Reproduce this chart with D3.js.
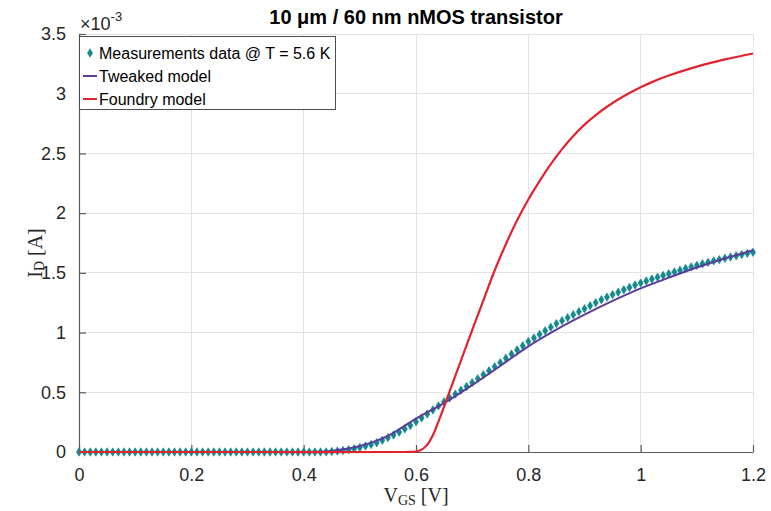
<!DOCTYPE html>
<html>
<head>
<meta charset="utf-8">
<script src="https://cdn.jsdelivr.net/npm/d3@7"></script>
<style>
  html, body { margin: 0; padding: 0; background: #fff; }
  svg { display: block; }
</style>
</head>
<body>
<svg id="chart" width="771" height="511"></svg>
<script>
// ---------------- DATA ----------------
const xTicks = [0, 0.2, 0.4, 0.6, 0.8, 1, 1.2];
const xTickLabels = ["0", "0.2", "0.4", "0.6", "0.8", "1", "1.2"];
const yTicks = [0, 0.5, 1, 1.5, 2, 2.5, 3, 3.5];
const yTickLabels = ["0", "0.5", "1", "1.5", "2", "2.5", "3", "3.5"];

// Measurements (VGS sampled every 0.01 V from 0 to 1.2 V), ID in units of 1e-3 A
const measStep = 0.01;
const measID = [
  0,0,0,0,0,0,0,0,0,0,
  0,0,0,0,0,0,0,0,0,0,
  0,0,0,0,0,0,0,0,0,0,
  0,0,0,0,0,0,0,0,0,0,
  0,0,0,0,0.001,
  0.004,0.008,0.013,0.02,0.028,0.038,0.05,0.063,0.078,0.098,
  0.12,0.142,0.166,0.193,0.222,0.253,0.285,0.318,0.352,0.386,
  0.42,0.453,0.485,0.517,0.549,0.581,0.614,0.647,0.68,0.714,
  0.748,0.785,0.82,0.855,0.89,0.925,
  0.955,0.985,1.015,1.045,1.075,1.1,1.125,1.15,1.175,1.2,
  1.225,1.25,1.275,1.297,1.318,1.338,1.358,1.378,1.398,1.415,
  1.432,1.448,1.463,1.478,1.493,1.508,1.522,1.536,1.55,1.563,
  1.576,1.588,1.6,1.611,1.622,1.633,1.643,1.653,1.663,1.672
];

// Tweaked model
const tweakVGS = [0, 0.2, 0.4, 0.42, 0.45, 0.5, 0.55, 0.6, 0.65, 0.7, 0.75, 0.8, 0.85, 0.9, 0.95, 1.0, 1.05, 1.1, 1.15, 1.2];
const tweakID  = [0, 0,   0,   0.002, 0.009, 0.05, 0.135, 0.28, 0.41, 0.56, 0.72, 0.885, 1.025, 1.15, 1.265, 1.37, 1.46, 1.545, 1.62, 1.69];

// Foundry model
const foundryVGS = [0, 0.3, 0.58, 0.6, 0.61, 0.62, 0.63, 0.64, 0.65, 0.66, 0.68, 0.7, 0.72, 0.74, 0.76, 0.78, 0.8, 0.82, 0.84, 0.86, 0.88, 0.9, 0.92, 0.94, 0.96, 0.98, 1.0, 1.02, 1.05, 1.1, 1.15, 1.2];
const foundryID  = [0, 0,   0,    0.004, 0.02, 0.06, 0.14, 0.255, 0.38, 0.51, 0.765, 1.02, 1.27, 1.52, 1.74, 1.94, 2.114, 2.268, 2.41, 2.536, 2.646, 2.741, 2.821, 2.891, 2.952, 3.006, 3.054, 3.097, 3.152, 3.227, 3.287, 3.337];

const legendLabels = ["Measurements data @ T = 5.6 K", "Tweaked model", "Foundry model"];
const titleText = "10 \u03bcm / 60 nm nMOS transistor";

// ---------------- LAYOUT ----------------
const svg = d3.select("#chart");
const pL = 79, pR = 753, pT = 34, pB = 452;
const x = d3.scaleLinear().domain([0, 1.2]).range([pL, pR]);
const y = d3.scaleLinear().domain([0, 3.5]).range([pB, pT]);

const sans = "'Liberation Sans', Arial, Helvetica, sans-serif";
const serif = "'Liberation Serif', 'DejaVu Serif', 'Times New Roman', serif";
const colMeas = "#14888c", colTweak = "#5b3c9b", colFoundry = "#e2232e";
const axisCol = "#5a5a5a", gridCol = "#e3e3e3";

// grid
const grid = svg.append("g");
grid.selectAll("line.gx").data(xTicks).join("line").attr("class", "gx")
  .attr("x1", d => x(d)).attr("x2", d => x(d))
  .attr("y1", pT).attr("y2", pB)
  .attr("stroke", gridCol).attr("stroke-width", 1).attr("shape-rendering", "crispEdges");
grid.selectAll("line.gy").data(yTicks).join("line").attr("class", "gy")
  .attr("x1", pL).attr("x2", pR)
  .attr("y1", d => y(d)).attr("y2", d => y(d))
  .attr("stroke", gridCol).attr("stroke-width", 1).attr("shape-rendering", "crispEdges");

// axes
const xAxis = d3.axisBottom(x).tickValues(xTicks).tickFormat((d, i) => xTickLabels[i])
  .tickSizeInner(-7).tickSizeOuter(0).tickPadding(16);
const gx = svg.append("g").attr("transform", `translate(0,${pB})`).call(xAxis);
const yAxis = d3.axisLeft(y).tickValues(yTicks).tickFormat((d, i) => yTickLabels[i])
  .tickSizeInner(-7).tickSizeOuter(0).tickPadding(13);
const gy = svg.append("g").attr("transform", `translate(${pL},0)`).call(yAxis);
[gx, gy].forEach(g => {
  g.select(".domain").attr("stroke", axisCol).attr("stroke-width", 1.2);
  g.selectAll(".tick line").attr("stroke", axisCol).attr("stroke-width", 1.2);
  g.selectAll(".tick text").attr("fill", "#262626")
    .style("font-family", sans).style("font-size", "18px");
});

// measurements (diamonds)
const meas = measID.map((v, i) => ({ vgs: i * measStep, id: v }));
const diamond = (cx, cy) => `M${cx},${cy - 4.2}L${cx + 2.6},${cy}L${cx},${cy + 4.2}L${cx - 2.6},${cy}Z`;
svg.append("g").selectAll("path").data(meas).join("path")
  .attr("d", d => diamond(x(d.vgs), y(d.id)))
  .attr("fill", colMeas).attr("stroke", colMeas).attr("stroke-width", 0.6);

// lines
const line = d3.line().x(d => x(d[0])).y(d => y(d[1])).curve(d3.curveCatmullRom.alpha(0.5));
svg.append("path").datum(tweakVGS.map((v, i) => [v, tweakID[i]]))
  .attr("d", line).attr("fill", "none").attr("stroke", colTweak).attr("stroke-width", 2);
svg.append("path").datum(foundryVGS.map((v, i) => [v, foundryID[i]]))
  .attr("d", line).attr("fill", "none").attr("stroke", colFoundry).attr("stroke-width", 2.2);

// exponent label
const ex = svg.append("text").attr("x", pL + 1).attr("y", 30)
  .style("font-family", sans).style("font-size", "18px").attr("fill", "#262626");
ex.append("tspan").text("\u00d710");
ex.append("tspan").attr("dy", -9).style("font-size", "13px").text("-3");

// title
svg.append("text").attr("x", (pL + pR) / 2).attr("y", 24)
  .attr("text-anchor", "middle").style("font-family", sans).style("font-size", "20px")
  .style("font-weight", "bold").attr("fill", "#000").text(titleText);

// axis labels
const xl = svg.append("text").attr("x", (pL + pR) / 2).attr("y", 502)
  .attr("text-anchor", "middle").style("font-family", serif).style("font-size", "20px").attr("fill", "#262626");
xl.append("tspan").text("V");
xl.append("tspan").attr("dy", 3).style("font-size", "14px").text("GS");
xl.append("tspan").attr("dy", -3).text(" [V]");

const yl = svg.append("text").attr("transform", `translate(42,${(pT + pB) / 2 + 10}) rotate(-90)`)
  .attr("text-anchor", "middle").style("font-family", serif).style("font-size", "20px").attr("fill", "#262626");
yl.append("tspan").text("I");
yl.append("tspan").attr("dy", 2).style("font-size", "14px").text("D");
yl.append("tspan").attr("dy", -2).text(" [A]");

// legend
const lg = svg.append("g");
lg.append("rect").attr("x", pL + 0.5).attr("y", 36.5).attr("width", 256).attr("height", 73)
  .attr("fill", "#fff").attr("stroke", "#4d4d4d").attr("stroke-width", 1);
const rowY = [53, 76, 99];
legendLabels.forEach((lab, i) => {
  if (i === 0) {
    lg.append("path").attr("d", diamond(90, rowY[i])).attr("fill", colMeas).attr("stroke", colMeas).attr("stroke-width", 0.6);
  } else {
    lg.append("line").attr("x1", 83).attr("x2", 97).attr("y1", rowY[i]).attr("y2", rowY[i])
      .attr("stroke", i === 1 ? colTweak : colFoundry).attr("stroke-width", 2);
  }
  lg.append("text").attr("x", 99).attr("y", rowY[i] + 6)
    .style("font-family", sans).style("font-size", "16px").attr("fill", "#000").text(lab);
});
</script>
</body>
</html>
